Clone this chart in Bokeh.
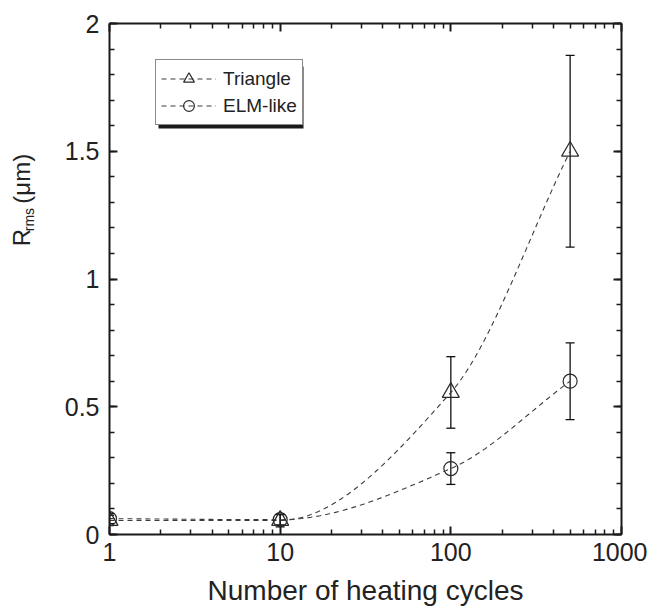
import numpy as np
from bokeh.plotting import figure
from bokeh.layouts import row
from bokeh.models import (LogAxis, LinearAxis, FixedTicker, Legend, LegendItem,
                          Whisker, TeeHead, ColumnDataSource, Label, Range1d, BoxAnnotation)
from bokeh.embed import file_html
from bokeh.resources import INLINE

# ---------------- data ----------------
cycles = [1, 10, 100, 500]
tri_y = [0.055, 0.055, 0.556, 1.50]
tri_err = [0.02, 0.025, 0.14, 0.375]
elm_y = [0.062, 0.058, 0.258, 0.60]
elm_err = [0.02, 0.02, 0.062, 0.15]

x_ticks = [1, 10, 100, 1000]
x_tick_labels = ["1", "10", "100", "1000"]
y_ticks = [0, 0.5, 1, 1.5, 2]
y_tick_labels = ["0", "0.5", "1", "1.5", "2"]

FONT = "Liberation Sans"
LINE_COL = "#3a3a3a"
TEXT_COL = "#222222"

FRAME_W, FRAME_H = 512, 511
X_LO, X_HI, Y_LO, Y_HI = 1, 1000, 0, 2
LABEL_W = 46
TOTAL_H = 608


def pchip(xs, ys, xq):
    xs = np.asarray(xs, float)
    ys = np.asarray(ys, float)
    h = np.diff(xs)
    d = np.diff(ys) / h
    n = len(xs)
    m = np.zeros(n)
    for k in range(1, n - 1):
        if d[k - 1] * d[k] <= 0:
            m[k] = 0.0
        else:
            w1 = 2 * h[k] + h[k - 1]
            w2 = h[k] + 2 * h[k - 1]
            m[k] = (w1 + w2) / (w1 / d[k - 1] + w2 / d[k])
    m[0] = d[0]
    m[-1] = d[-1]
    out = np.empty_like(xq)
    for i, xv in enumerate(xq):
        k = min(max(np.searchsorted(xs, xv) - 1, 0), n - 2)
        t = (xv - xs[k]) / h[k]
        h00 = 2 * t**3 - 3 * t**2 + 1
        h10 = t**3 - 2 * t**2 + t
        h01 = -2 * t**3 + 3 * t**2
        h11 = t**3 - t**2
        out[i] = h00 * ys[k] + h10 * h[k] * m[k] + h01 * ys[k + 1] + h11 * h[k] * m[k + 1]
    return out


lx = np.log10(cycles)
lq = np.linspace(lx[0], lx[-1], 200)
xq = 10 ** lq
tri_curve = pchip(lx, tri_y, lq)
elm_curve = pchip(lx, elm_y, lq)

p = figure(x_axis_type="log", x_range=Range1d(X_LO, X_HI), y_range=Range1d(Y_LO, Y_HI),
           frame_width=FRAME_W, frame_height=FRAME_H,
           min_border_left=109 - LABEL_W, min_border_top=23, min_border_right=26,
           min_border_bottom=TOTAL_H - 23 - FRAME_H,
           output_backend="svg", toolbar_location=None)
p.grid.visible = False
p.outline_line_color = None
p.background_fill_color = "white"
p.border_fill_color = "white"

xticker = FixedTicker(ticks=x_ticks,
                      minor_ticks=[d * 10**e for e in range(3) for d in range(2, 10)])
yticker = FixedTicker(ticks=y_ticks, minor_ticks=[i / 10 for i in range(21)])


def style_axis(ax):
    ax.axis_line_width = 2
    ax.axis_line_color = "#1a1a1a"
    ax.major_tick_in = 8
    ax.major_tick_out = 0
    ax.minor_tick_in = 5
    ax.minor_tick_out = 0
    ax.major_tick_line_width = 2
    ax.minor_tick_line_width = 1.5
    ax.major_tick_line_color = "#1a1a1a"
    ax.minor_tick_line_color = "#1a1a1a"
    ax.major_label_text_font = FONT
    ax.major_label_text_color = TEXT_COL
    ax.major_label_text_font_size = "25px"


xa = p.xaxis[0]
xa.ticker = xticker
xa.major_label_overrides = dict(zip(x_ticks, x_tick_labels))
style_axis(xa)
xa.major_label_standoff = 8
xa.axis_label = "Number of heating cycles"
xa.axis_label_text_font = FONT
xa.axis_label_text_font_size = "28px"
xa.axis_label_text_font_style = "normal"
xa.axis_label_text_color = TEXT_COL
xa.axis_label_standoff = 11

ya = p.yaxis[0]
ya.ticker = yticker
ya.major_label_overrides = dict(zip(y_ticks, y_tick_labels))
style_axis(ya)
ya.major_label_standoff = 10

top = LogAxis(ticker=xticker)
style_axis(top)
top.major_label_text_color = None
top.major_label_text_font_size = "2px"
top.major_label_standoff = 0
p.add_layout(top, "above")
right = LinearAxis(ticker=yticker)
style_axis(right)
right.major_label_text_color = None
right.major_label_text_font_size = "2px"
right.major_label_standoff = 0
p.add_layout(right, "right")

# dashed guide curves
tri_line = p.line(xq, tri_curve, line_color=LINE_COL, line_width=1.1, line_dash="5 4")
elm_line = p.line(xq, elm_curve, line_color=LINE_COL, line_width=1.1, line_dash="5 4")

# error bars
tri_src = ColumnDataSource(dict(x=cycles, y=tri_y,
                                lo=[a - b for a, b in zip(tri_y, tri_err)],
                                hi=[a + b for a, b in zip(tri_y, tri_err)]))
elm_src = ColumnDataSource(dict(x=cycles, y=elm_y,
                                lo=[a - b for a, b in zip(elm_y, elm_err)],
                                hi=[a + b for a, b in zip(elm_y, elm_err)]))
for src in (tri_src, elm_src):
    w = Whisker(source=src, base="x", lower="lo", upper="hi", dimension="height",
                line_color="#111111", line_width=1.3,
                upper_head=TeeHead(size=9, line_color="#111111", line_width=1.3),
                lower_head=TeeHead(size=9, line_color="#111111", line_width=1.3))
    p.add_layout(w)

tri_mark = p.scatter("x", "y", source=tri_src, marker="triangle", size=17,
                     fill_color=None, line_color="#2a2a2a", line_width=1.2)
elm_mark = p.scatter("x", "y", source=elm_src, marker="circle", size=14,
                     fill_color=None, line_color="#2a2a2a", line_width=1.2)


def px_to_x(dx):
    """horizontal pixel offset from the frame's left edge -> data x (log axis)"""
    return 10 ** (np.log10(X_LO) + dx / FRAME_W * (np.log10(X_HI) - np.log10(X_LO)))


def px_to_y(dy):
    """vertical pixel offset from the frame's bottom edge -> data y"""
    return Y_LO + dy / FRAME_H * (Y_HI - Y_LO)


# legend drop shadow (decoration behind the legend box)
LEG_X, LEG_Y, LEG_W, LEG_H, SH = 46, 409, 145, 62, 3
p.add_layout(BoxAnnotation(left=px_to_x(LEG_X + SH), right=px_to_x(LEG_X + LEG_W + SH),
                           bottom=px_to_y(LEG_Y - SH), top=px_to_y(LEG_Y + LEG_H - SH),
                           fill_color="#1a1a1a", fill_alpha=1.0, line_color=None))

legend = Legend(items=[LegendItem(label="Triangle", renderers=[tri_line, tri_mark]),
                       LegendItem(label="ELM-like", renderers=[elm_line, elm_mark])],
                location=(LEG_X, LEG_Y), orientation="vertical",
                glyph_width=55, glyph_height=27, spacing=-2, padding=5, margin=0,
                label_standoff=7, label_text_font=FONT, label_text_font_size="19px",
                label_text_color=TEXT_COL,
                border_line_color="#111111", border_line_width=1.5,
                background_fill_color="white", background_fill_alpha=1.0)
p.add_layout(legend)

# ---- y-axis title with subscript, in a narrow text strip left of the plot ----
lab = figure(width=LABEL_W, height=TOTAL_H, x_range=Range1d(0, LABEL_W),
             y_range=Range1d(0, TOTAL_H), min_border=0, output_backend="svg",
             toolbar_location=None)
lab.axis.visible = False
lab.grid.visible = False
lab.outline_line_color = None
lab.background_fill_color = "white"
lab.border_fill_color = "white"

BIG, SMALL = 24, 14
ylab_kw = dict(angle=np.pi / 2, text_font=FONT, text_color=TEXT_COL,
               text_align="left", text_baseline="alphabetic")
start = TOTAL_H - 265  # where "R" begins (from bottom)
base = 21              # baseline x
r_w = 0.722 * BIG
rms_w = (0.333 + 0.833 + 0.5) * SMALL
gap = 10
lab.add_layout(Label(x=base, y=start, text="R", text_font_size=f"{BIG}px", **ylab_kw))
lab.add_layout(Label(x=base + 7, y=start + r_w + 0.5, text="rms",
                     text_font_size=f"{SMALL}px", **ylab_kw))
lab.add_layout(Label(x=base, y=start + r_w + rms_w + gap, text="(μm)",
                     text_font_size=f"{BIG}px", **ylab_kw))

layout = row(lab, p, spacing=0)
open("out.html", "w").write(file_html(layout, INLINE))
